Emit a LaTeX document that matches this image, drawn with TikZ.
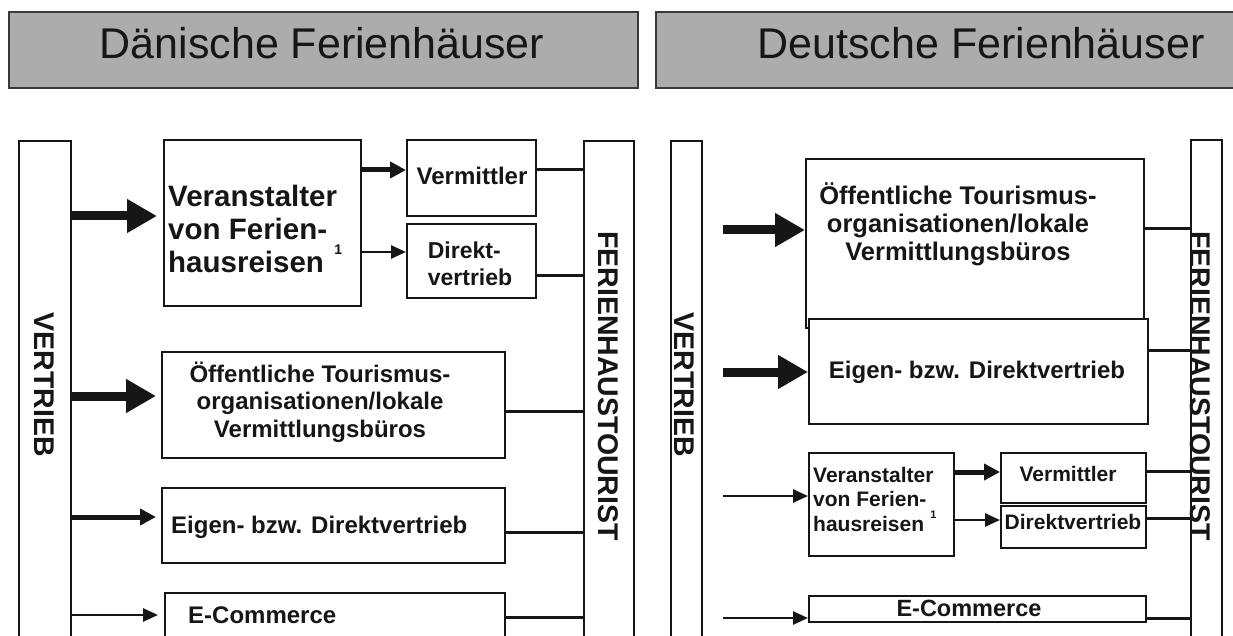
\documentclass[tikz,border=0pt]{standalone}
\usepackage{fontspec}
\setmainfont{Liberation Sans}
\usetikzlibrary{arrows.meta}
\definecolor{hdrgray}{RGB}{172,172,172}
\definecolor{ink}{RGB}{22,22,22}
\begin{document}
\begin{tikzpicture}[x=1pt,y=-1pt,
  box/.style={draw=ink, line width=2pt, inner sep=0pt, anchor=north west, fill=white},
  hdr/.style={draw=ink!85, line width=2pt, fill=hdrgray, inner sep=0pt, anchor=north west},
  link/.style={draw=ink, line width=3pt},
  bigarrow/.style={draw=ink, line width=9pt, -{Triangle[length=30pt,width=32pt]}},
  midarrow/.style={draw=ink, line width=5pt, -{Triangle[length=16pt,width=16pt]}},
  thinarrow/.style={draw=ink, line width=2.6pt, -{Triangle[length=15pt,width=13pt]}},
  title/.style={font=\fontsize{43}{46}\selectfont, text=ink, inner sep=0pt, anchor=base},
  bartext/.style={font=\bfseries\fontsize{28.5}{30}\selectfont, text=ink, inner sep=0pt, rotate=-90},
  lbl/.style={font=\bfseries\fontsize{24}{28}\selectfont, text=ink, inner sep=0pt},
  slbl/.style={font=\bfseries\fontsize{21}{24.5}\selectfont, text=ink, inner sep=0pt}
]
\useasboundingbox (0,0) rectangle (1233,636);
\fill[white] (0,0) rectangle (1233,636);

% ---------- headers ----------
\node[hdr, minimum width=629pt, minimum height=76pt] (hl) at (8,11) {};
\node[hdr, minimum width=640pt, minimum height=76pt] (hr) at (655,11) {};
\node[title] (hlt) at (322,59) {Dänische Ferienhäuser};
\node[title] (hrt) at (981,59) {Deutsche Ferienhäuser};

% ---------- left panel ----------
\node[box, minimum width=52pt, minimum height=520pt] (lvb) at (18,140) {};
\node[box, minimum width=50pt, minimum height=520pt] (lfb) at (583,140) {};
\node[bartext] (lvbt) at (44,385) {VERTRIEB};
\node[bartext] (lfbt) at (608,386) {FERIENHAUSTOURIST};

\node[box, minimum width=197pt, minimum height=166pt] (lva) at (163,139) {};
\node[lbl, font=\bfseries\fontsize{29.5}{33}\selectfont, align=left, anchor=north west] (lvat) at (168,185)
  {Veranstalter\\von Ferien-\\hausreisen\hspace{0.35em}\raisebox{0.6em}{\fontsize{14}{14}\selectfont 1}};

\node[box, minimum width=129pt, minimum height=76pt] (lvm) at (406,139) {};
\node[lbl, anchor=base] (lvmt) at (472,185) {Vermittler};
\node[box, minimum width=129pt, minimum height=74pt] (ldv) at (406,223) {};
\node[lbl, font=\bfseries\fontsize{23}{27}\selectfont, align=left] (ldvt) at (470,264) {Direkt-\\vertrieb};

\node[box, minimum width=343pt, minimum height=106pt] (lof) at (161,351) {};
\node[lbl, align=center, font=\bfseries\fontsize{24}{27.5}\selectfont] (loft) at (320,402)
  {Öffentliche Tourismus-\\organisationen/lokale\\Vermittlungsbüros};

\node[box, minimum width=343pt, minimum height=75pt] (lei) at (161,487) {};
\node[lbl, anchor=base west] (leit) at (171,533) {Eigen- bzw. Direktvertrieb};

\node[box, minimum width=340pt, minimum height=70pt] (lec) at (164,592) {};
\node[lbl, anchor=base west] (lect) at (188,623) {E-Commerce};

% left arrows
\draw[bigarrow, shorten >=6pt] (lvb.east |- 0,216) -- (lva.west |- 0,216);
\draw[midarrow] (lva.east |- 0,170) -- (lvm.west |- 0,170);
\draw[thinarrow] (lva.east |- 0,252) -- (ldv.west |- 0,252);
\draw[bigarrow, shorten >=5pt] (lvb.east |- 0,396) -- (lof.west |- 0,396);
\draw[midarrow, shorten >=5pt] (lvb.east |- 0,517) -- (lei.west |- 0,517);
\draw[thinarrow, shorten >=6pt] (lvb.east |- 0,615) -- (lec.west |- 0,615);

% left links
\draw[link] (lvm.east |- 0,170) -- (lfb.west |- 0,170);
\draw[link] (ldv.east |- 0,275) -- (lfb.west |- 0,275);
\draw[link] (lof.east |- 0,411) -- (lfb.west |- 0,411);
\draw[link] (lei.east |- 0,532) -- (lfb.west |- 0,532);
\draw[link] (lec.east |- 0,617) -- (lfb.west |- 0,617);

% ---------- right panel ----------
\node[box, minimum width=31pt, minimum height=520pt] (rvb) at (670,140) {};
\node[box, minimum width=31pt, minimum height=520pt] (rfb) at (1190,139) {};
\node[bartext] (rvbt) at (684,385) {VERTRIEB};
\node[bartext] (rfbt) at (1200,386) {FERIENHAUSTOURIST};

\node[box, minimum width=338pt, minimum height=169pt] (rof) at (805,158) {};
\node[lbl, align=center, font=\bfseries\fontsize{25.5}{28}\selectfont] (roft) at (958,224)
  {Öffentliche Tourismus-\\organisationen/lokale\\Vermittlungsbüros};

\node[box, minimum width=339pt, minimum height=105pt] (rei) at (808,318) {};
\node[lbl, anchor=base] (reit) at (977,378) {Eigen- bzw. Direktvertrieb};

\node[box, minimum width=145pt, minimum height=103pt] (rva) at (808,452) {};
\node[slbl, align=left, anchor=north west] (rvat) at (813,467)
  {Veranstalter\\von Ferien-\\hausreisen\hspace{0.3em}\raisebox{0.6em}{\fontsize{11}{11}\selectfont 1}};

\node[box, minimum width=145pt, minimum height=50pt] (rvm) at (1000,452) {};
\node[slbl, anchor=base] (rvmt) at (1068,481) {Vermittler};
\node[box, minimum width=145pt, minimum height=42pt] (rdv) at (1000,505) {};
\node[slbl, anchor=base] (rdvt) at (1073,529) {Direktvertrieb};

\node[box, minimum width=337pt, minimum height=26pt] (rec) at (808,595) {};
\node[lbl, font=\bfseries\fontsize{23.5}{26}\selectfont, anchor=base] (rect) at (969,616) {E-Commerce};

% right arrow starts
\coordinate (rs1) at (723,230);
\coordinate (rs2) at (723,372);
\coordinate (rs3) at (723,496);
\coordinate (rs4) at (723,618);

\draw[bigarrow] (rs1) -- (rof.west |- rs1);
\draw[bigarrow] (rs2) -- (rei.west |- rs2);
\draw[thinarrow] (rs3) -- (rva.west |- rs3);
\draw[thinarrow] (rs4) -- (rec.west |- rs4);
\draw[midarrow] (rva.east |- 0,472) -- (rvm.west |- 0,472);
\draw[thinarrow] (rva.east |- 0,520) -- (rdv.west |- 0,520);

% right links
\draw[link] (rof.east |- 0,229) -- (rfb.west |- 0,229);
\draw[link] (rei.east |- 0,350) -- (rfb.west |- 0,350);
\draw[link] (rvm.east |- 0,471) -- (rfb.west |- 0,471);
\draw[link] (rdv.east |- 0,518) -- (rfb.west |- 0,518);
\draw[link] (rec.east |- 0,618) -- (rfb.west |- 0,618);
\end{tikzpicture}
\end{document}
